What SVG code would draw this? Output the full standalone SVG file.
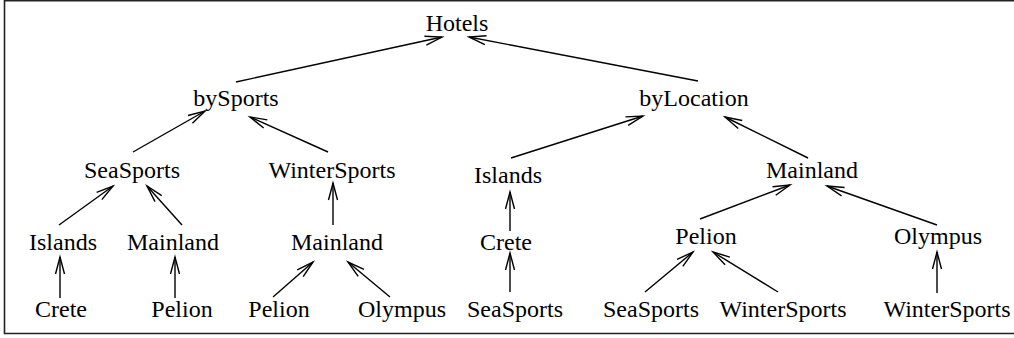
<svg xmlns="http://www.w3.org/2000/svg" width="1014" height="338" viewBox="0 0 1014 338">
  <style>
    text { font-family: 'Liberation Serif', 'DejaVu Serif', 'Times New Roman', Times, serif; font-size: 24px; fill: #000; text-anchor: middle; }
    .edge { stroke: #000; stroke-width: 1.4; fill: none; marker-end: url(#open); }
    .frame { stroke: #222; stroke-width: 1.6; fill: none; }
  </style>
  <defs>
    <marker id="open" markerUnits="userSpaceOnUse" markerWidth="40" markerHeight="40" refX="0" refY="0" orient="auto" viewBox="-20 -10 40 20" overflow="visible">
      <path d="M -17 -4.5 L 0 0 L -17 4.5" fill="none" stroke="#000" stroke-width="1.4"/>
    </marker>
  </defs>

  <!-- frame: open on the right edge -->
  <path class="frame" d="M 1014 0.8 H 4.5 V 333.5 H 1014"/>

  <g id="connectors">
    <line class="edge" x1="236" y1="82" x2="442" y2="37"/>
    <line class="edge" x1="698" y1="81" x2="469" y2="37"/>
    <line class="edge" x1="133" y1="152" x2="205" y2="111"/>
    <line class="edge" x1="328" y1="152" x2="250" y2="117"/>
    <line class="edge" x1="59" y1="225" x2="113" y2="186"/>
    <line class="edge" x1="182" y1="225" x2="147" y2="186"/>
    <line class="edge" x1="333" y1="225" x2="333" y2="183"/>
    <line class="edge" x1="60" y1="298" x2="60" y2="257"/>
    <line class="edge" x1="175" y1="298" x2="175" y2="257"/>
    <line class="edge" x1="273" y1="297" x2="313" y2="262"/>
    <line class="edge" x1="390" y1="297" x2="348" y2="262"/>
    <line class="edge" x1="511" y1="158" x2="643" y2="116"/>
    <line class="edge" x1="808" y1="158" x2="725" y2="117"/>
    <line class="edge" x1="510" y1="231" x2="510" y2="192"/>
    <line class="edge" x1="510" y1="292" x2="510" y2="253"/>
    <line class="edge" x1="700" y1="219" x2="790" y2="185"/>
    <line class="edge" x1="937" y1="225" x2="827" y2="186"/>
    <line class="edge" x1="645" y1="292" x2="693" y2="252"/>
    <line class="edge" x1="778" y1="292" x2="713" y2="252"/>
    <line class="edge" x1="937" y1="293" x2="937" y2="252"/>
  </g>

  <g font-family="Liberation Serif, serif">
  <g id="hotels"><text x="457" y="31">Hotels</text></g>
  <g id="bySports"><text x="236" y="106">bySports</text></g>
  <g id="byLocation"><text x="694" y="106">byLocation</text></g>

  <g id="sports-sea"><text x="132" y="178">SeaSports</text></g>
  <g id="sports-winter"><text x="332" y="178">WinterSports</text></g>
  <g id="sports-sea-islands"><text x="63" y="250">Islands</text></g>
  <g id="sports-sea-mainland"><text x="173" y="250">Mainland</text></g>
  <g id="sports-winter-mainland"><text x="337" y="250">Mainland</text></g>
  <g id="sports-sea-islands-crete"><text x="61" y="317">Crete</text></g>
  <g id="sports-sea-mainland-pelion"><text x="182" y="317">Pelion</text></g>
  <g id="sports-winter-mainland-pelion"><text x="279" y="317">Pelion</text></g>
  <g id="sports-winter-mainland-olympus"><text x="402" y="317">Olympus</text></g>

  <g id="loc-islands"><text x="508" y="183">Islands</text></g>
  <g id="loc-mainland"><text x="812" y="178">Mainland</text></g>
  <g id="loc-islands-crete"><text x="506" y="250">Crete</text></g>
  <g id="loc-mainland-pelion"><text x="706" y="244">Pelion</text></g>
  <g id="loc-mainland-olympus"><text x="938" y="244">Olympus</text></g>
  <g id="loc-islands-crete-sea"><text x="515" y="317">SeaSports</text></g>
  <g id="loc-mainland-pelion-sea"><text x="651" y="317">SeaSports</text></g>
  <g id="loc-mainland-pelion-winter"><text x="783" y="317">WinterSports</text></g>
  <g id="loc-mainland-olympus-winter"><text x="947" y="317">WinterSports</text></g>
  </g>
</svg>
